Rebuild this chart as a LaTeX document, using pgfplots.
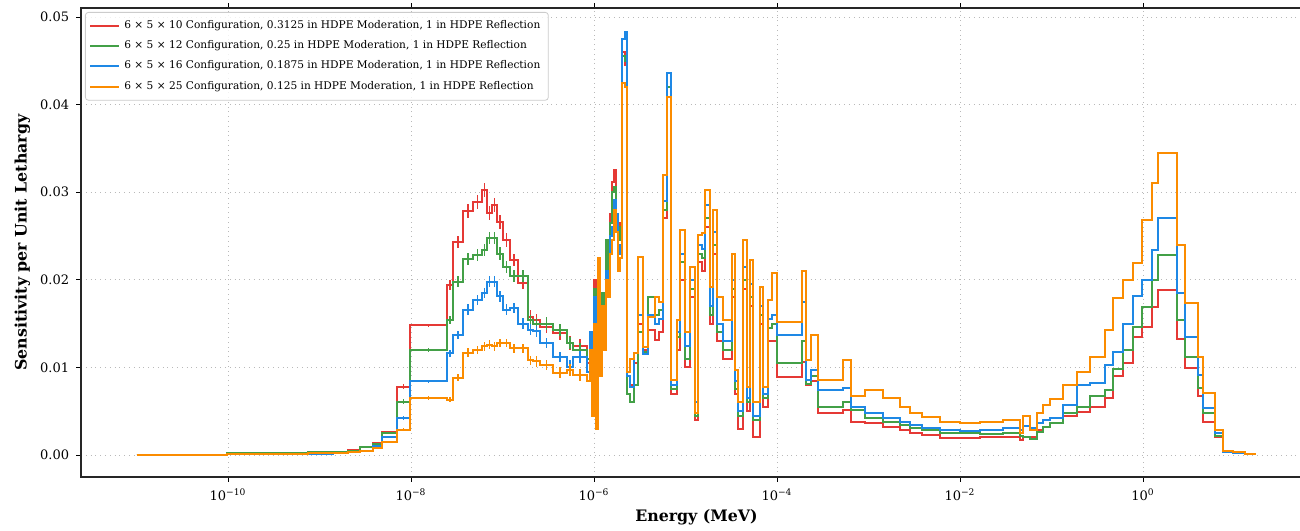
\documentclass[border=0pt]{standalone}
\usepackage{pgfplots}
\pgfplotsset{compat=1.18}
\usepackage{pgfplotstable}
\usepackage{fontspec}
\setmainfont{DejaVu Serif}

\definecolor{cR}{HTML}{E53935}
\definecolor{cG}{HTML}{43A047}
\definecolor{cB}{HTML}{1E88E5}
\definecolor{cO}{HTML}{FB8C00}

% lx = log10(E / MeV) of the lower bin edge; r, g, b, o = sensitivity per unit lethargy
\pgfplotstableread{
lx r g b o
-11.000 0.00005 0.00005 0.00005 0.00005
-10.011 0.0001 0.0002 0.0001 0.0001
-9.126 0.0002 0.0003 0.0001 0.0002
-8.852 0.0003 0.0003 0.0002 0.0002
-8.689 0.0006 0.0005 0.0003 0.0004
-8.557 0.0009 0.0009 0.0005 0.0005
-8.415 0.0014 0.0013 0.0010 0.0008
-8.317 0.0026 0.0025 0.0020 0.0015
-8.153 0.0078 0.0061 0.0042 0.0029
-8.011 0.0148 0.0120 0.0084 0.0065
-7.607 0.0194 0.0154 0.0116 0.0063
-7.541 0.0243 0.0198 0.0137 0.0088
-7.432 0.0278 0.0224 0.0166 0.0117
-7.322 0.0289 0.0228 0.0177 0.0120
-7.224 0.0302 0.0234 0.0185 0.0124
-7.169 0.0276 0.0248 0.0198 0.0126
-7.115 0.0285 0.0248 0.0198 0.0124
-7.060 0.0266 0.0230 0.0181 0.0128
-6.995 0.0245 0.0215 0.0166 0.0128
-6.918 0.0223 0.0204 0.0168 0.0122
-6.831 0.0196 0.0204 0.0150 0.0122
-6.721 0.0158 0.0154 0.0143 0.0108
-6.667 0.0154 0.0150 0.0141 0.0107
-6.590 0.0146 0.0150 0.0128 0.0103
-6.448 0.0139 0.0143 0.0112 0.0094
-6.295 0.0128 0.0128 0.0101 0.0097
-6.230 0.0124 0.0120 0.0112 0.0091
-6.077 0.0105 0.0110 0.0095 0.0085
-6.044 0.0130 0.0125 0.0140 0.0120
-6.022 0.0060 0.0080 0.0070 0.0045
-6.000 0.0200 0.0190 0.0180 0.0150
-5.978 0.0080 0.0100 0.0095 0.0030
-5.956 0.0215 0.0200 0.0210 0.0225
-5.934 0.0120 0.0130 0.0110 0.0090
-5.913 0.0180 0.0185 0.0160 0.0170
-5.891 0.0140 0.0150 0.0145 0.0120
-5.869 0.0240 0.0245 0.0210 0.0200
-5.847 0.0200 0.0210 0.0190 0.0180
-5.825 0.0275 0.0265 0.0250 0.0230
-5.803 0.0312 0.0300 0.0260 0.0245
-5.781 0.0325 0.0306 0.0291 0.0280
-5.760 0.0270 0.0265 0.0275 0.0255
-5.738 0.0250 0.0245 0.0230 0.0210
-5.716 0.0265 0.0260 0.0240 0.0225
-5.694 0.0460 0.0455 0.0475 0.0425
-5.661 0.0445 0.0450 0.0483 0.0420
-5.639 0.0090 0.0070 0.0090 0.0095
-5.607 0.0080 0.0060 0.0078 0.0110
-5.563 0.0105 0.0080 0.0117 0.0117
-5.519 0.0150 0.0140 0.0160 0.0226
-5.464 0.0120 0.0118 0.0115 0.0123
-5.410 0.0143 0.0180 0.0160 0.0158
-5.333 0.0131 0.0160 0.0150 0.0180
-5.290 0.0140 0.0165 0.0155 0.0175
-5.246 0.0270 0.0280 0.0290 0.0320
-5.202 0.0420 0.0420 0.0436 0.0409
-5.158 0.0070 0.0075 0.0080 0.0086
-5.093 0.0120 0.0135 0.0140 0.0154
-5.060 0.0200 0.0220 0.0230 0.0257
-5.005 0.0100 0.0110 0.0125 0.0140
-4.951 0.0180 0.0190 0.0200 0.0215
-4.896 0.0040 0.0045 0.0060 0.0048
-4.863 0.0220 0.0230 0.0240 0.0251
-4.820 0.0210 0.0225 0.0235 0.0253
-4.787 0.0260 0.0270 0.0285 0.0302
-4.732 0.0150 0.0160 0.0170 0.0192
-4.699 0.0230 0.0240 0.0255 0.0280
-4.656 0.0130 0.0140 0.0150 0.0180
-4.590 0.0110 0.0120 0.0130 0.0154
-4.492 0.0180 0.0190 0.0200 0.0230
-4.459 0.0070 0.0075 0.0085 0.0097
-4.426 0.0030 0.0045 0.0050 0.0060
-4.372 0.0190 0.0200 0.0215 0.0245
-4.328 0.0050 0.0060 0.0065 0.0078
-4.295 0.0170 0.0180 0.0195 0.0223
-4.262 0.0020 0.0040 0.0045 0.0060
-4.186 0.0150 0.0160 0.0170 0.0192
-4.153 0.0055 0.0065 0.0070 0.0078
-4.098 0.0130 0.0145 0.0155 0.0177
-4.055 0.0130 0.0150 0.0160 0.0208
-4.000 0.0089 0.0105 0.0137 0.0152
-3.727 0.0106 0.0130 0.0175 0.0210
-3.683 0.0080 0.0081 0.0086 0.0108
-3.628 0.0084 0.0090 0.0097 0.0137
-3.552 0.0048 0.0055 0.0074 0.0086
-3.279 0.0051 0.0061 0.0076 0.0108
-3.191 0.0038 0.0051 0.0055 0.0067
-3.038 0.0036 0.0042 0.0048 0.0074
-2.842 0.0032 0.0038 0.0042 0.0065
-2.656 0.0029 0.0034 0.0038 0.0055
-2.546 0.0025 0.0031 0.0034 0.0048
-2.415 0.0023 0.0028 0.0031 0.0043
-2.219 0.0019 0.0025 0.0029 0.0038
-2.000 0.0019 0.0025 0.0027 0.0036
-1.781 0.0021 0.0024 0.0029 0.0038
-1.530 0.0021 0.0025 0.0031 0.0040
-1.344 0.0017 0.0022 0.0029 0.0025
-1.311 0.0021 0.0020 0.0033 0.0044
-1.235 0.0021 0.0018 0.0031 0.0029
-1.158 0.0028 0.0026 0.0036 0.0048
-1.093 0.0032 0.0032 0.0040 0.0057
-1.016 0.0036 0.0036 0.0042 0.0064
-0.874 0.0044 0.0048 0.0057 0.0080
-0.721 0.0049 0.0055 0.0080 0.0095
-0.579 0.0055 0.0067 0.0082 0.0112
-0.415 0.0065 0.0074 0.0103 0.0143
-0.328 0.0090 0.0098 0.0118 0.0179
-0.219 0.0105 0.0120 0.0150 0.0200
-0.109 0.0135 0.0146 0.0181 0.0219
-0.011 0.0146 0.0169 0.0200 0.0268
0.098 0.0169 0.0200 0.0234 0.0310
0.164 0.0188 0.0228 0.0270 0.0345
0.372 0.0133 0.0154 0.0185 0.0240
0.459 0.0099 0.0112 0.0135 0.0173
0.601 0.0067 0.0077 0.0091 0.0112
0.656 0.0038 0.0048 0.0054 0.0071
0.787 0.0020 0.0022 0.0025 0.0029
0.874 0.0004 0.0004 0.0004 0.0005
0.984 0.0002 0.0002 0.0002 0.0003
1.115 0.0001 0.0001 0.0001 0.0001
1.235 0.0001 0.0001 0.0001 0.0001
}\sens

% bin centres (log10 E) with values and one-sigma uncertainties
\pgfplotstableread{
cx r g b o er eg eb eo
-8.082 0.0078 0.0061 0.0042 0.0029 0.0003 0.0003 0.0002 0.0002
-7.809 0.0148 0.0120 0.0084 0.0065 0.0002 0.0002 0.0002 0.0002
-7.574 0.0194 0.0154 0.0116 0.0063 0.0006 0.0005 0.0004 0.0003
-7.487 0.0243 0.0198 0.0137 0.0088 0.0007 0.0006 0.0005 0.0004
-7.377 0.0278 0.0224 0.0166 0.0117 0.0008 0.0007 0.0006 0.0005
-7.273 0.0289 0.0228 0.0177 0.0120 0.0008 0.0007 0.0006 0.0005
-7.197 0.0302 0.0234 0.0185 0.0124 0.0008 0.0007 0.0006 0.0005
-7.142 0.0276 0.0248 0.0198 0.0126 0.0008 0.0007 0.0006 0.0005
-7.088 0.0285 0.0248 0.0198 0.0124 0.0008 0.0007 0.0006 0.0005
-7.028 0.0266 0.0230 0.0181 0.0128 0.0008 0.0007 0.0006 0.0005
-6.957 0.0245 0.0215 0.0166 0.0128 0.0008 0.0007 0.0006 0.0005
-6.875 0.0223 0.0204 0.0168 0.0122 0.0007 0.0007 0.0006 0.0005
-6.776 0.0196 0.0204 0.0150 0.0122 0.0007 0.0007 0.0006 0.0005
-6.694 0.0158 0.0154 0.0143 0.0108 0.0007 0.0006 0.0006 0.0005
-6.629 0.0154 0.0150 0.0141 0.0107 0.0007 0.0006 0.0006 0.0006
-6.519 0.0146 0.0150 0.0128 0.0103 0.0007 0.0007 0.0006 0.0006
-6.372 0.0139 0.0143 0.0112 0.0094 0.0008 0.0007 0.0006 0.0006
-6.263 0.0128 0.0128 0.0101 0.0097 0.0008 0.0007 0.0007 0.0007
-6.154 0.0124 0.0120 0.0112 0.0091 0.0009 0.0008 0.0007 0.0007
}\errs

\pgfplotsset{
  errstyle/.style={forget plot, draw=none, mark=none,
    error bars/.cd, y dir=both, y explicit, error mark=none,
    error bar style={draw=#1, line width=0.6pt, solid}},
}

\begin{document}
\begin{tikzpicture}
\begin{axis}[
  name=ax,
  scale only axis,
  width=615.5pt, height=234.5pt,
  xmode=log,
  xmin=2.472e-12, xmax=70.3,
  ymin=-0.00251, ymax=0.05103,
  xtick={1e-10,1e-8,1e-6,1e-4,1e-2,1},
  xticklabels={10\textsuperscript{−10},10\textsuperscript{−8},10\textsuperscript{−6},10\textsuperscript{−4},10\textsuperscript{−2},10\textsuperscript{0}},
  xminorticks=false,
  ytick={0,0.01,0.02,0.03,0.04,0.05},
  yticklabels={0.00,0.01,0.02,0.03,0.04,0.05},
  scaled y ticks=false,
  tick align=outside,
  major tick length=2.4pt,
  tick style={black, line width=0.45pt},
  tick label style={font=\fontsize{6.5}{7.5}\selectfont},
  axis line style={line width=0.6pt, black!85},
  grid=major,
  grid style={dotted, gray!55, line width=0.45pt},
  xlabel={Energy (MeV)},
  ylabel={Sensitivity per Unit Lethargy},
  every axis x label/.style={at={([yshift=-20pt]axis description cs:0.5,0)}, anchor=center,
    font=\fontsize{7.9}{9}\selectfont\bfseries},
  every axis y label/.style={at={([xshift=-29.3pt]axis description cs:0,0.5)}, rotate=90, anchor=center,
    font=\fontsize{7.9}{9}\selectfont\bfseries},
  legend style={
    font=\fontsize{5.3}{6.3}\selectfont,
    at={(0,1)}, anchor=north west, xshift=2pt, yshift=-2pt,
    draw=black!20, line width=0.4pt, rounded corners=1.5pt,
    fill=white, fill opacity=0.8, text opacity=1,
    row sep=0.6pt, inner xsep=2pt, inner ysep=2pt,
    cells={anchor=west},
  },
  legend image code/.code={\draw[#1, line width=1pt] (0pt,0pt) -- (14.5pt,0pt);},
  every axis plot/.append style={const plot mark left, no marks, line width=1pt},
]
\addplot[cR] table[x expr={10^(\thisrow{lx})}, y=r] {\sens};
\addlegendentry{6 × 5 × 10 Configuration, 0.3125 in HDPE Moderation, 1 in HDPE Reflection}
\addplot[errstyle=cR] table[x expr={10^(\thisrow{cx})}, y=r, y error=er] {\errs};
\addplot[cG] table[x expr={10^(\thisrow{lx})}, y=g] {\sens};
\addlegendentry{6 × 5 × 12 Configuration, 0.25 in HDPE Moderation, 1 in HDPE Reflection}
\addplot[errstyle=cG] table[x expr={10^(\thisrow{cx})}, y=g, y error=eg] {\errs};
\addplot[cB] table[x expr={10^(\thisrow{lx})}, y=b] {\sens};
\addlegendentry{6 × 5 × 16 Configuration, 0.1875 in HDPE Moderation, 1 in HDPE Reflection}
\addplot[errstyle=cB] table[x expr={10^(\thisrow{cx})}, y=b, y error=eb] {\errs};
\addplot[cO] table[x expr={10^(\thisrow{lx})}, y=o] {\sens};
\addlegendentry{6 × 5 × 25 Configuration, 0.125 in HDPE Moderation, 1 in HDPE Reflection}
\addplot[errstyle=cO] table[x expr={10^(\thisrow{cx})}, y=o, y error=eo] {\errs};
\end{axis}
\pgfresetboundingbox
\path[use as bounding box] ([xshift=-40.5pt,yshift=-26.5pt]ax.south west) rectangle ([xshift=609.5pt,yshift=238.5pt]ax.south west);
\end{tikzpicture}
\end{document}
